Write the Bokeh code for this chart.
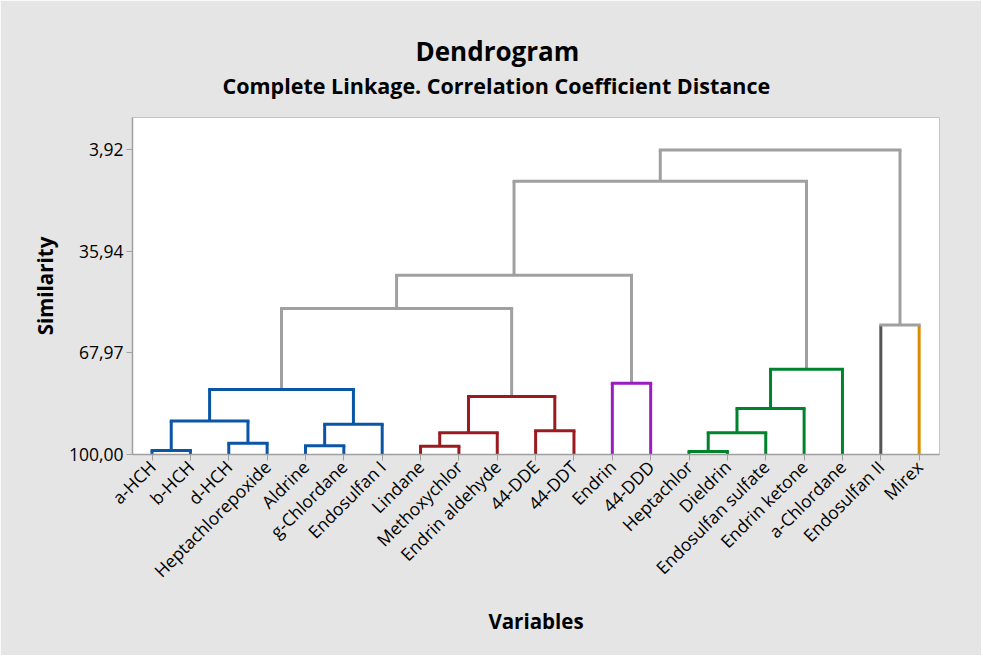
from math import pi
from bokeh.plotting import figure
from bokeh.models import Range1d, FixedTicker, Title, ColumnDataSource
from bokeh.embed import file_html
from bokeh.resources import INLINE

# ---------------- data ----------------
leaves = ["a-HCH", "b-HCH", "d-HCH", "Heptachlorepoxide", "Aldrine", "g-Chlordane",
          "Endosulfan I", "Lindane", "Methoxychlor", "Endrin aldehyde", "44-DDE", "44-DDT",
          "Endrin", "44-DDD", "Heptachlor", "Dieldrin", "Endosulfan sulfate",
          "Endrin ketone", "a-Chlordane", "Endosulfan II", "Mirex"]

BLUE, RED, PURPLE, GREEN = "#0A55A6", "#9B1A1F", "#9A1DC1", "#00832D"
GRAY, DARK, ORANGE = "#A0A0A0", "#555555", "#D98C00"

leaf_colors = [BLUE] * 7 + [RED] * 5 + [PURPLE] * 2 + [GREEN] * 5 + [DARK, ORANGE]

# merges (node ids: leaves 0..20, merges 21..)
merge_left = [0, 2, 21, 4, 24, 23, 7, 27, 10, 28, 26, 12, 31, 14, 34, 35, 36, 33, 19, 38]
merge_right = [1, 3, 22, 5, 6, 25, 8, 9, 11, 29, 30, 13, 32, 15, 16, 17, 18, 37, 20, 39]
merge_sim = [98.74, 96.43, 89.47, 97.26, 90.42, 79.46, 97.38, 93.15, 92.52, 81.67,
             53.96, 77.56, 43.43, 99.05, 93.15, 85.46, 73.13, 13.82, 59.14, 3.92]
merge_color = [BLUE, BLUE, BLUE, BLUE, BLUE, BLUE, RED, RED, RED, RED,
               GRAY, PURPLE, GRAY, GREEN, GREEN, GREEN, GREEN, GRAY, GRAY, GRAY]

y_ticks = [3.92, 35.94, 67.97, 100.0]
y_tick_labels = ["3,92", "35,94", "67,97", "100,00"]

# ---------------- build segments ----------------
n = len(leaves)
pos = [i + 1 for i in range(n)]
hgt = [100.0] * n
for l, r, s in zip(merge_left, merge_right, merge_sim):
    pos.append((pos[l] + pos[r]) / 2.0)
    hgt.append(s)

hx0, hx1, hy, hc = [], [], [], []
vx, vy0, vy1, vc = [], [], [], []
for k, (l, r, s, c) in enumerate(zip(merge_left, merge_right, merge_sim, merge_color)):
    hx0.append(pos[l]); hx1.append(pos[r]); hy.append(s); hc.append(c)
    for ch in (l, r):
        vx.append(pos[ch]); vy0.append(hgt[ch]); vy1.append(s)
        vc.append(leaf_colors[ch] if ch < n else c)

FONT = "Open Sans"
W, H = 981, 655

p = figure(width=W, height=H, output_backend="svg", toolbar_location=None,
           x_range=Range1d(0.49, 21.53), y_range=Range1d(100, -6.3),
           min_border_left=132, min_border_right=W - 939, min_border_top=117,
           min_border_bottom=H - 454, title=None)
p.background_fill_color = "white"
p.border_fill_color = "#E5E5E5"
p.outline_line_color = "#C4C4C4"
p.outline_line_width = 1
p.grid.visible = False

p.segment(x0="x", y0="y0", x1="x", y1="y1", color="c", line_width=3, line_cap="butt",
          source=ColumnDataSource(dict(x=vx, y0=vy0, y1=vy1, c=vc)))
p.segment(x0="x0", y0="y", x1="x1", y1="y", color="c", line_width=3, line_cap="square",
          source=ColumnDataSource(dict(x0=hx0, x1=hx1, y=hy, c=hc)))

# axes
p.xaxis.ticker = FixedTicker(ticks=pos[:n])
p.xaxis.major_label_overrides = {i + 1: name for i, name in enumerate(leaves)}
p.xaxis.major_label_orientation = pi / 4
p.yaxis.ticker = FixedTicker(ticks=y_ticks)
p.yaxis.major_label_overrides = {t: lab for t, lab in zip(y_ticks, y_tick_labels)}

for ax in (p.xaxis[0], p.yaxis[0]):
    ax.axis_line_color = GRAY
    ax.axis_line_width = 1.5
    ax.major_tick_line_color = GRAY
    ax.major_tick_line_width = 1
    ax.major_tick_out = 6
    ax.major_tick_in = 0
    ax.minor_tick_line_color = None
    ax.major_label_text_font = FONT
    ax.major_label_text_font_size = "17.5px"
    ax.major_label_text_color = "black"
    ax.major_label_standoff = 3
    ax.axis_label_text_font = FONT
    ax.axis_label_text_font_size = "20.5px"
    ax.axis_label_text_font_style = "bold"
    ax.axis_label_text_color = "black"

p.xaxis.axis_label = "Variables"
p.yaxis.axis_label = "Similarity"
p.xaxis.axis_label_standoff = 13
p.yaxis.axis_label_standoff = 7

p.add_layout(Title(text="Complete Linkage. Correlation Coefficient Distance", align="left",
                   text_font=FONT, text_font_size="21.5px", text_font_style="bold",
                   text_color="black", offset=90, standoff=36), "above")
p.add_layout(Title(text="Dendrogram", align="left",
                   text_font=FONT, text_font_size="26px", text_font_style="bold",
                   text_color="black", offset=283, standoff=-36), "above")

open("out.html", "w").write(file_html(p, INLINE))
